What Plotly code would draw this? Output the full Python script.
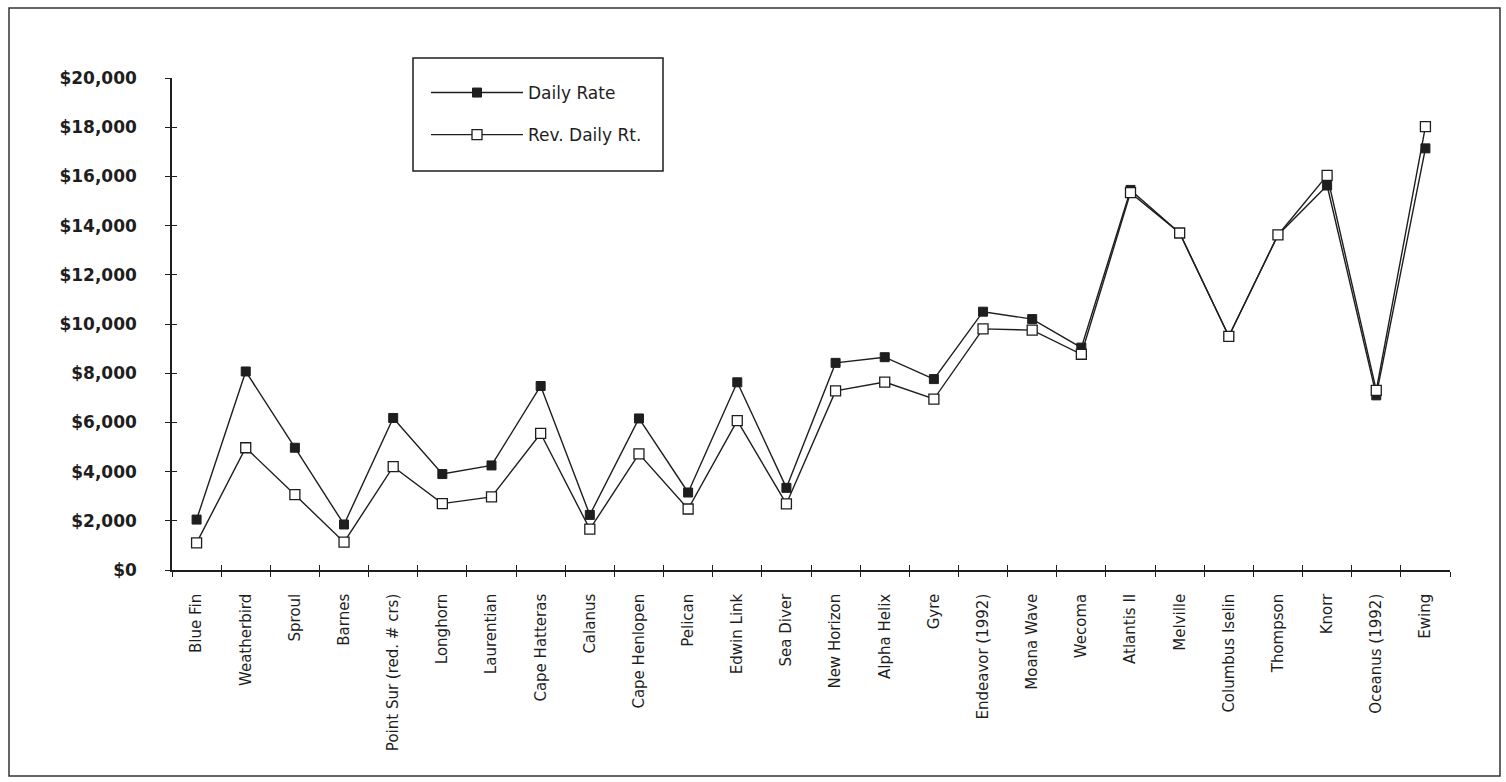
import plotly.graph_objects as go

# Research vessel day rates
ships = [
    "Blue Fin", "Weatherbird", "Sproul", "Barnes", "Point Sur (red. # crs)",
    "Longhorn", "Laurentian", "Cape Hatteras", "Calanus", "Cape Henlopen",
    "Pelican", "Edwin Link", "Sea Diver", "New Horizon", "Alpha Helix", "Gyre",
    "Endeavor (1992)", "Moana Wave", "Wecoma", "Atlantis II", "Melville",
    "Columbus Iselin", "Thompson", "Knorr", "Oceanus (1992)", "Ewing",
]
daily_rate = [
    2050, 8070, 4970, 1850, 6180, 3900, 4250, 7480, 2240, 6160, 3150, 7630, 3340,
    8420, 8650, 7760, 10500, 10200, 9040, 15450, 13700, 9500, 13620, 15630, 7100, 17140,
]
rev_daily_rt = [
    1100, 4970, 3060, 1130, 4200, 2700, 2970, 5550, 1660, 4720, 2480, 6070, 2690,
    7280, 7640, 6950, 9800, 9750, 8770, 15340, 13700, 9500, 13620, 16040, 7300, 18020,
]
y_ticks = [0, 2000, 4000, 6000, 8000, 10000, 12000, 14000, 16000, 18000, 20000]
y_tick_text = ["$" + format(v, ",") for v in y_ticks]

INK = "#1e1e1e"
FONT = "DejaVu Sans"

fig = go.Figure()
fig.add_trace(go.Scatter(
    x=ships, y=daily_rate, name="Daily Rate", mode="lines+markers",
    legendgroup="a",
    line=dict(color=INK, width=1.4),
    marker=dict(symbol="square", size=9, color=INK, line=dict(color=INK, width=1)),
))
fig.add_trace(go.Scatter(
    x=ships, y=rev_daily_rt, name="Rev. Daily Rt.", mode="lines+markers",
    legendgroup="b",
    line=dict(color=INK, width=1.4),
    marker=dict(symbol="square", size=10, color="white", line=dict(color=INK, width=1.3)),
))

W, H = 1506, 782
L, R, T, B = 172, 56, 78, 212
pw, ph = W - L - R, H - T - B


def px_x(p):
    return (p - L) / pw


def px_y(p):
    return (H - B - p) / ph


axis_common = dict(showgrid=False, zeroline=False, showline=True,
                   linecolor=INK, linewidth=1.5, tickcolor=INK, tickwidth=1.3)

fig.update_layout(
    width=W, height=H,
    margin=dict(l=L, r=R, t=T, b=B, pad=0),
    paper_bgcolor="white", plot_bgcolor="white",
    font=dict(family=FONT, color=INK),
    xaxis=dict(
        **axis_common, type="category", categoryarray=ships,
        range=[-0.5, len(ships) - 0.5],
        ticks="outside", ticklen=5, tickson="boundaries",
        tickangle=-90, tickfont=dict(family=FONT, size=15, color=INK),
        ticklabelstandoff=16,
    ),
    yaxis=dict(
        **axis_common, range=[0, 20000], tickvals=y_ticks, ticktext=y_tick_text,
        ticks="outside", ticklen=5,
        tickfont=dict(family=FONT, size=17, color=INK, weight="bold"),
        ticklabelstandoff=25,
    ),
    xaxis2=dict(
        **axis_common, type="category", categoryarray=ships, overlaying="x",
        anchor="y2", range=[-0.5, len(ships) - 0.5], ticks="inside", ticklen=5,
        tickson="boundaries", showticklabels=False, matches="x",
    ),
    yaxis2=dict(
        **axis_common, overlaying="y", anchor="x2", range=[0, 20000],
        tickvals=y_ticks, ticks="inside", ticklen=5, showticklabels=False,
    ),
    showlegend=True,
    legend=dict(
        x=px_x(426), y=px_y(75), xanchor="left", yanchor="top",
        bgcolor="rgba(0,0,0,0)", borderwidth=0,
        font=dict(family=FONT, size=17, color=INK),
        itemwidth=92, tracegroupgap=17,
    ),
)

# helper trace so the overlay axes are drawn
fig.add_trace(go.Scatter(x=[ships[0]], y=[None], xaxis="x2", yaxis="y2",
                         showlegend=False, hoverinfo="skip"))

# legend frame and outer chart border
fig.add_shape(type="rect", xref="paper", yref="paper",
              x0=px_x(413), x1=px_x(663), y0=px_y(171), y1=px_y(58),
              line=dict(color=INK, width=1.5), fillcolor="rgba(0,0,0,0)")
fig.add_shape(type="rect", xref="paper", yref="paper",
              x0=px_x(9), x1=px_x(1500), y0=px_y(776), y1=px_y(8),
              line=dict(color="#333333", width=1.5), fillcolor="rgba(0,0,0,0)")

fig.write_html("out.html")
